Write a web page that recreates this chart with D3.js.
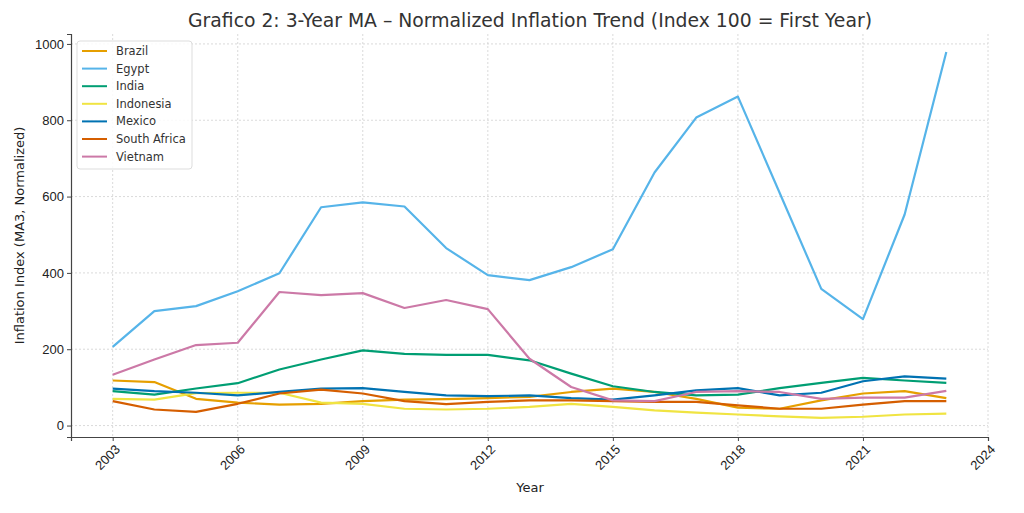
<!DOCTYPE html>
<html>
<head>
<meta charset="utf-8">
<script src="https://cdn.jsdelivr.net/npm/d3@7"></script>
<style>
  body { margin: 0; background: #fff; }
  svg { font-family: "DejaVu Sans", sans-serif; }
</style>
</head>
<body>
<svg></svg>
<script>
var years = d3.range(2003, 2024);
var countries = ["Brazil", "Egypt", "India", "Indonesia", "Mexico", "South Africa", "Vietnam"];
var colors = ["#E69F00", "#56B4E9", "#009E73", "#F0E442", "#0072B2", "#D55E00", "#CC79A7"];

var brazil = [118, 114, 70, 60, 55, 57, 64, 68, 69, 72, 75, 88, 97, 88, 70, 47, 44, 66, 84, 90, 72];
var egypt = [206, 300, 313, 352, 399, 572, 585, 574, 465, 394, 381, 415, 462, 663, 807, 862, 610, 358, 279, 553, 979];
var india = [90, 81, 97, 111, 147, 173, 197, 188, 185, 185, 171, 136, 103, 88, 79, 81, 98, 112, 125, 118, 112];
var indonesia = [70, 68, 85, 86, 86, 60, 57, 44, 42, 44, 49, 57, 49, 40, 34, 29, 24, 20, 23, 29, 31];
var mexico = [97, 90, 86, 79, 88, 97, 98, 88, 79, 77, 79, 72, 68, 79, 92, 98, 79, 86, 116, 129, 123];
var southAfrica = [64, 42, 36, 57, 84, 94, 84, 64, 56, 62, 66, 66, 64, 62, 62, 53, 44, 44, 55, 64, 64];
var vietnam = [133, 173, 211, 217, 350, 342, 347, 308, 329, 305, 175, 101, 66, 64, 88, 90, 88, 70, 73, 73, 91];

var seriesValues = [brazil, egypt, india, indonesia, mexico, southAfrica, vietnam];
var xTicks = [2003, 2006, 2009, 2012, 2015, 2018, 2021, 2024];
var yTicks = [0, 200, 400, 600, 800, 1000];

var width = 1024,
  height = 513,
  margin = { top: 34, right: 36, bottom: 76, left: 71 };

var svg = d3.select("svg").attr("width", width).attr("height", height);

var x = d3.scaleLinear().domain([2002, 2024]).range([margin.left, width - margin.right]);
var y = d3.scaleLinear().domain([-30, 1026]).range([height - margin.bottom, margin.top]);

// grid
svg.append("g")
  .selectAll("line")
  .data(xTicks)
  .join("line")
  .attr("x1", d => x(d)).attr("x2", d => x(d))
  .attr("y1", margin.top).attr("y2", height - margin.bottom)
  .attr("stroke", "#d0d0d0").attr("stroke-width", 0.8).attr("stroke-dasharray", "2,2");

svg.append("g")
  .selectAll("line")
  .data(yTicks)
  .join("line")
  .attr("x1", margin.left).attr("x2", width - margin.right)
  .attr("y1", d => y(d)).attr("y2", d => y(d))
  .attr("stroke", "#d0d0d0").attr("stroke-width", 0.8).attr("stroke-dasharray", "2,2");

// axes
var xAxis = svg.append("g")
  .attr("transform", "translate(0," + (height - margin.bottom) + ")")
  .call(d3.axisBottom(x).tickValues(xTicks).tickFormat(d3.format("d")).tickSizeOuter(0).tickSize(4));

xAxis.selectAll("text")
  .attr("font-size", "13px")
  .attr("fill", "#222")
  .attr("text-anchor", "end")
  .attr("transform", "rotate(-45)")
  .attr("dx", "-0.3em")
  .attr("dy", "0.6em");

var yAxis = svg.append("g")
  .attr("transform", "translate(" + margin.left + ",0)")
  .call(d3.axisLeft(y).tickValues(yTicks).tickFormat(d3.format("d")).tickSizeOuter(0).tickSize(4));

yAxis.selectAll("text").attr("font-size", "13px").attr("fill", "#222");

[xAxis, yAxis].forEach(function (a) {
  a.select(".domain").attr("stroke", "#444").attr("stroke-width", 1.2);
  a.selectAll(".tick line").attr("stroke", "#444");
});

// lines
var line = d3.line()
  .x((d, i) => x(years[i]))
  .y(d => y(d));

svg.append("g")
  .selectAll("path")
  .data(seriesValues)
  .join("path")
  .attr("d", line)
  .attr("fill", "none")
  .attr("stroke", (d, i) => colors[i])
  .attr("stroke-width", 2.2)
  .attr("stroke-linejoin", "round");

// title and labels
svg.append("text")
  .attr("x", 530)
  .attr("y", 27)
  .attr("text-anchor", "middle")
  .attr("font-size", "18.8px")
  .attr("fill", "#333")
  .text("Grafico 2: 3-Year MA – Normalized Inflation Trend (Index 100 = First Year)");

svg.append("text")
  .attr("x", 530)
  .attr("y", 492)
  .attr("text-anchor", "middle")
  .attr("font-size", "13px")
  .attr("fill", "#222")
  .text("Year");

svg.append("text")
  .attr("transform", "translate(24," + ((margin.top + height - margin.bottom) / 2) + ") rotate(-90)")
  .attr("text-anchor", "middle")
  .attr("font-size", "13px")
  .attr("fill", "#222")
  .text("Inflation Index (MA3, Normalized)");

// legend
var legend = svg.append("g").attr("transform", "translate(77,41)");

legend.append("rect")
  .attr("width", 115)
  .attr("height", 128)
  .attr("rx", 3)
  .attr("fill", "#fff")
  .attr("fill-opacity", 0.85)
  .attr("stroke", "#ddd");

var items = legend.selectAll(".item")
  .data(countries)
  .join("g")
  .attr("class", "item")
  .attr("transform", (d, i) => "translate(0," + (10 + i * 17.6) + ")");

items.append("line")
  .attr("x1", 5).attr("x2", 30)
  .attr("stroke", (d, i) => colors[i])
  .attr("stroke-width", 2);

items.append("text")
  .attr("x", 39)
  .attr("dy", "0.35em")
  .attr("font-size", "11.5px")
  .attr("fill", "#333")
  .text(d => d);
</script>
</body>
</html>
